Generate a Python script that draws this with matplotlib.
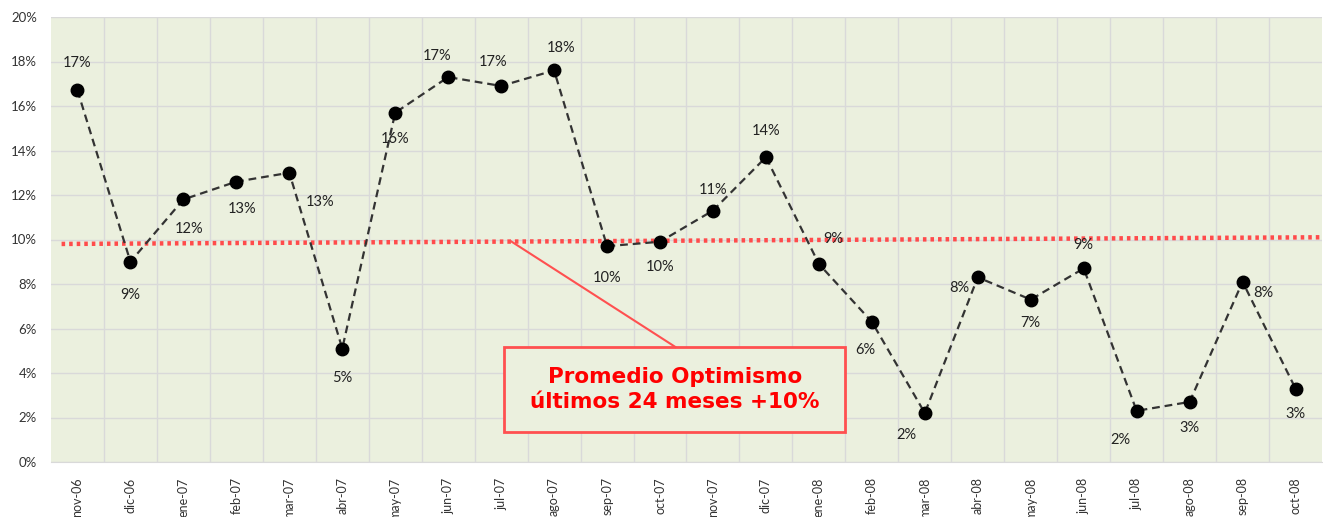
import matplotlib
matplotlib.use("Agg")
import matplotlib.pyplot as plt
from matplotlib.patches import Rectangle
from matplotlib.ticker import FuncFormatter, MultipleLocator, FixedLocator

months = ["nov-06", "dic-06", "ene-07", "feb-07", "mar-07", "abr-07", "may-07", "jun-07",
          "jul-07", "ago-07", "sep-07", "oct-07", "nov-07", "dic-07", "ene-08", "feb-08",
          "mar-08", "abr-08", "may-08", "jun-08", "jul-08", "ago-08", "sep-08", "oct-08"]
optimismo = [16.7, 9.0, 11.8, 12.6, 13.0, 5.1, 15.7, 17.3, 16.9, 17.6, 9.7, 9.9,
             11.3, 13.7, 8.9, 6.3, 2.2, 8.3, 7.3, 8.7, 2.3, 2.7, 8.1, 3.3]
labels = ["17%", "9%", "12%", "13%", "13%", "5%", "16%", "17%", "17%", "18%", "10%", "10%",
          "11%", "14%", "9%", "6%", "2%", "8%", "7%", "9%", "2%", "3%", "8%", "3%"]
promedio_line = [9.8, 10.1]
annotation_text = "Promedio Optimismo\núltimos 24 meses +10%"

# label offsets in points (dx, dy)
offs = [(0, 20), (0, -24), (4, -21), (4, -20), (22, -21), (0, -21), (0, -19), (-8, 15),
        (-6, 17), (5, 16), (0, -23), (0, -18), (0, 15), (0, 19), (10, 18), (-5, -20),
        (-13, -16), (-13, -8), (0, -17), (0, 17), (-12, -21), (0, -19), (15, -8), (0, -18)]

bg = "#EBF0DE"
fig = plt.figure(figsize=(13.23, 5.17), dpi=100)
ax = fig.add_axes([51/1323, 1 - 462/517, (1322 - 51)/1323, (462 - 17)/517])
ax.set_facecolor(bg)

x = list(range(len(months)))
ax.plot(x, optimismo, linestyle=(0, (3.5, 2.2)), color="#333333", linewidth=1.6,
        marker="o", markersize=9, markerfacecolor="black", markeredgecolor="black", zorder=4)

for xi, yi, lab, (dx, dy) in zip(x, optimismo, labels, offs):
    ax.annotate(lab, (xi, yi), xytext=(dx, dy), textcoords="offset points",
                ha="center", va="center", fontsize=10.5, color="#222222",
                family="Lato", zorder=8)

ax.plot([-0.3, len(months) - 0.5], promedio_line, linestyle=(0, (0.8, 0.9)),
        color="#FF4B4B", linewidth=3.2, zorder=3)

# annotation box and connector
ax.add_patch(Rectangle((8.06, 1.35), 14.5 - 8.06, 5.17 - 1.35, facecolor=bg,
                       edgecolor="#FF5050", linewidth=2, zorder=6))
ax.plot([11.29, 8.18], [5.17, 9.93], color="#FF5050", linewidth=1.5, zorder=6)
ax.text(11.28, 3.26, annotation_text, ha="center", va="center", fontsize=15.5,
        fontweight="bold", color="#FF0000", family="DejaVu Sans", linespacing=1.3, zorder=7)

ax.set_xlim(-0.5, len(months) - 0.5)
ax.set_ylim(0, 20)
ax.yaxis.set_major_locator(MultipleLocator(2))
ax.yaxis.set_major_formatter(FuncFormatter(lambda v, p: f"{v:.0f}%"))
ax.set_xticks(x)
ax.set_xticklabels(months, rotation=90, va="top", ha="center")
ax.xaxis.set_minor_locator(FixedLocator([i + 0.5 for i in range(len(months) - 1)]))
ax.grid(True, which="major", axis="y", color="#D9D9D9", linewidth=1)
ax.grid(True, which="minor", axis="x", color="#D9D9D9", linewidth=1)
ax.set_axisbelow(True)
ax.tick_params(axis="both", which="both", length=0, labelsize=9.5, labelcolor="#333333")
ax.tick_params(axis="x", labelsize=9, pad=11)
ax.tick_params(axis="y", pad=10)
for lab in ax.get_xticklabels() + ax.get_yticklabels():
    lab.set_family("Lato")
for s in ["top", "right", "left"]:
    ax.spines[s].set_visible(False)
ax.spines["bottom"].set_color("#D9D9D9")

fig.savefig("out.png", dpi=100, facecolor="white")
